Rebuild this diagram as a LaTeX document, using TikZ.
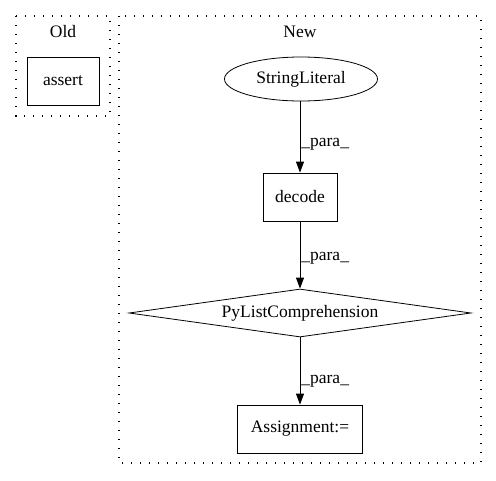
\documentclass[tikz,border=0pt]{standalone}
\usepackage{fontspec}
\setmainfont{Liberation Serif}
\usetikzlibrary{shapes.geometric,arrows.meta}

\begin{document}
\begin{tikzpicture}[x=1pt,y=-1pt,font=\fontsize{17.5pt}{20pt}\selectfont]
        \tikzstyle{every node}=[inner sep=0pt]
        \tikzstyle{cluster}=[draw,dash pattern=on 1.3pt off 7.7pt,line width=1.2pt]
        \tikzstyle{box}=[draw,rectangle,line width=0.8pt]
        \tikzstyle{edge}=[draw,line width=0.8pt,-{Triangle[width=8pt,length=11pt]}]
        \tikzstyle{lbl}=[anchor=west,xshift=1pt]
        \useasboundingbox (0,0) rectangle (496,480);
        % clusters
        \draw[cluster] (16,16) rectangle (110,116);
        \draw[cluster] (119,16) rectangle (481,463);
        \node (oldlbl) at (63,32) {Old};
        \node (newlbl) at (300,32) {New};
        % old side
        \node[box,minimum width=72pt,minimum height=48pt] (as) at (63,81) {assert};
        % new side
        \node[draw,ellipse,line width=0.8pt,minimum width=153pt,minimum height=44pt] (sl) at (301,79) {StringLiteral};
        \node[box,minimum width=74pt,minimum height=48pt] (dec) at (300,197) {decode};
        \node[draw,diamond,aspect=7,line width=0.8pt,minimum width=342pt,minimum height=48pt] (plc) at (300,313) {PyListComprehension};
        \node[box,minimum width=125pt,minimum height=48pt] (asg) at (300,429) {Assignment:=};
        \draw[edge] (sl.south -| dec.north) -- node[lbl,pos=0.6] {\_para\_} (dec.north);
        \draw[edge] (dec.south) -- node[lbl,pos=0.55] {\_para\_} (plc.north);
        \draw[edge] (plc.south) -- node[lbl,pos=0.65] {\_para\_} (asg.north);
\end{tikzpicture}
\end{document}
